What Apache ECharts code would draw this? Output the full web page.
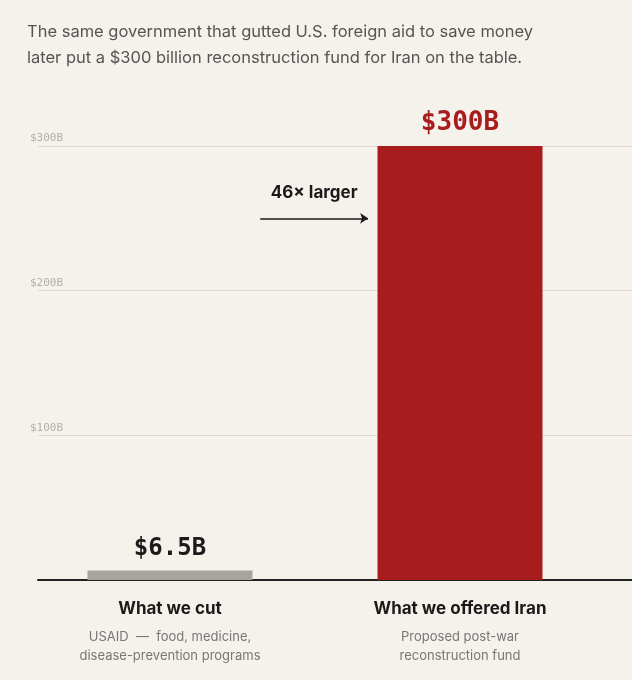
<!DOCTYPE html>
<html>
<head>
<meta charset="UTF-8">
<script src="https://cdn.jsdelivr.net/npm/echarts@6/dist/echarts.min.js"></script>
<style>html,body{margin:0;background:#f5f1eb;}</style>
</head>
<body>
<div id="chart" style="width:632px;height:680px;"></div>
<script>
    let names = ['What we cut', 'What we offered Iran'];
    let notes = ['USAID  —  food, medicine,\ndisease-prevention programs', 'Proposed post-war\nreconstruction fund'];
    let values = [6.5, 300];
    let valueLabels = ['$6.5B', '$300B'];
    let yTicks = [0, 100, 200, 300];

    let chart = echarts.init(document.getElementById('chart'));
    let sans = 'Inter, Roboto, sans-serif';
    let mono = '"DejaVu Sans Mono", monospace';
    let centers = [170, 460];

    let texts = [];
    names.forEach((n, i) => {
        texts.push({type: 'text', x: centers[i], y: 600,
            style: {text: n, fontFamily: sans, fontWeight: 'bold', fontSize: 17, fill: '#1a1a1a', align: 'center'}});
        texts.push({type: 'text', x: centers[i], y: 628,
            style: {text: notes[i], fontFamily: sans, fontSize: 13, fill: '#777', align: 'center', lineHeight: 19}});
    });

    let option = {
        backgroundColor: '#f5f1eb',
        title: {
            text: 'The same government that gutted U.S. foreign aid to save money\nlater put a $300 billion reconstruction fund for Iran on the table.',
            left: 22, top: 14,
            textStyle: {fontFamily: sans, fontSize: 16.5, fontWeight: 'normal', color: '#555', lineHeight: 26}
        },
        grid: {left: 38, right: 0, top: 146, bottom: 100},
        xAxis: {
            type: 'value', min: 0.545, max: 2.593,
            splitLine: {show: false}, axisTick: {show: false}, axisLabel: {show: false},
            axisLine: {show: true, onZero: true, lineStyle: {color: '#222', width: 2}}
        },
        yAxis: {
            type: 'value', min: 0, max: 300, interval: 100,
            axisLine: {show: false}, axisTick: {show: false},
            splitLine: {lineStyle: {color: '#e6d6d0', width: 1}},
            axisLabel: {
                inside: true, margin: -8, verticalAlign: 'bottom', padding: [0, 0, 2, 0],
                fontFamily: mono, fontSize: 11, color: '#b5b0aa',
                formatter: v => v === 0 ? '' : '$' + v + 'B'
            }
        },
        series: [{
            type: 'bar', barWidth: 165,
            data: values.map((v, i) => ({
                value: [i + 1, v],
                itemStyle: {color: i === 0 ? '#a8a39e' : '#a81c1e'},
                label: {
                    show: true, position: 'top', distance: i === 0 ? 10 : 10,
                    formatter: valueLabels[i], fontFamily: mono, fontWeight: 'bold',
                    fontSize: i === 0 ? 24 : 26, color: i === 0 ? '#1a1a1a' : '#a81c1e'
                }
            })),
            markLine: {
                silent: true, symbol: ['none', 'arrow'], symbolSize: 8,
                lineStyle: {color: '#1a1a1a', width: 1.5, type: 'solid'},
                label: {show: true, position: 'middle', formatter: '46× larger', offset: [0, -12],
                    fontFamily: sans, fontWeight: 'bold', fontSize: 17, color: '#1a1a1a'},
                data: [[{coord: [1.311, 250]}, {coord: [1.683, 250]}]]
            }
        }],
        graphic: texts
    };
    chart.setOption(option);
</script>
</body>
</html>
